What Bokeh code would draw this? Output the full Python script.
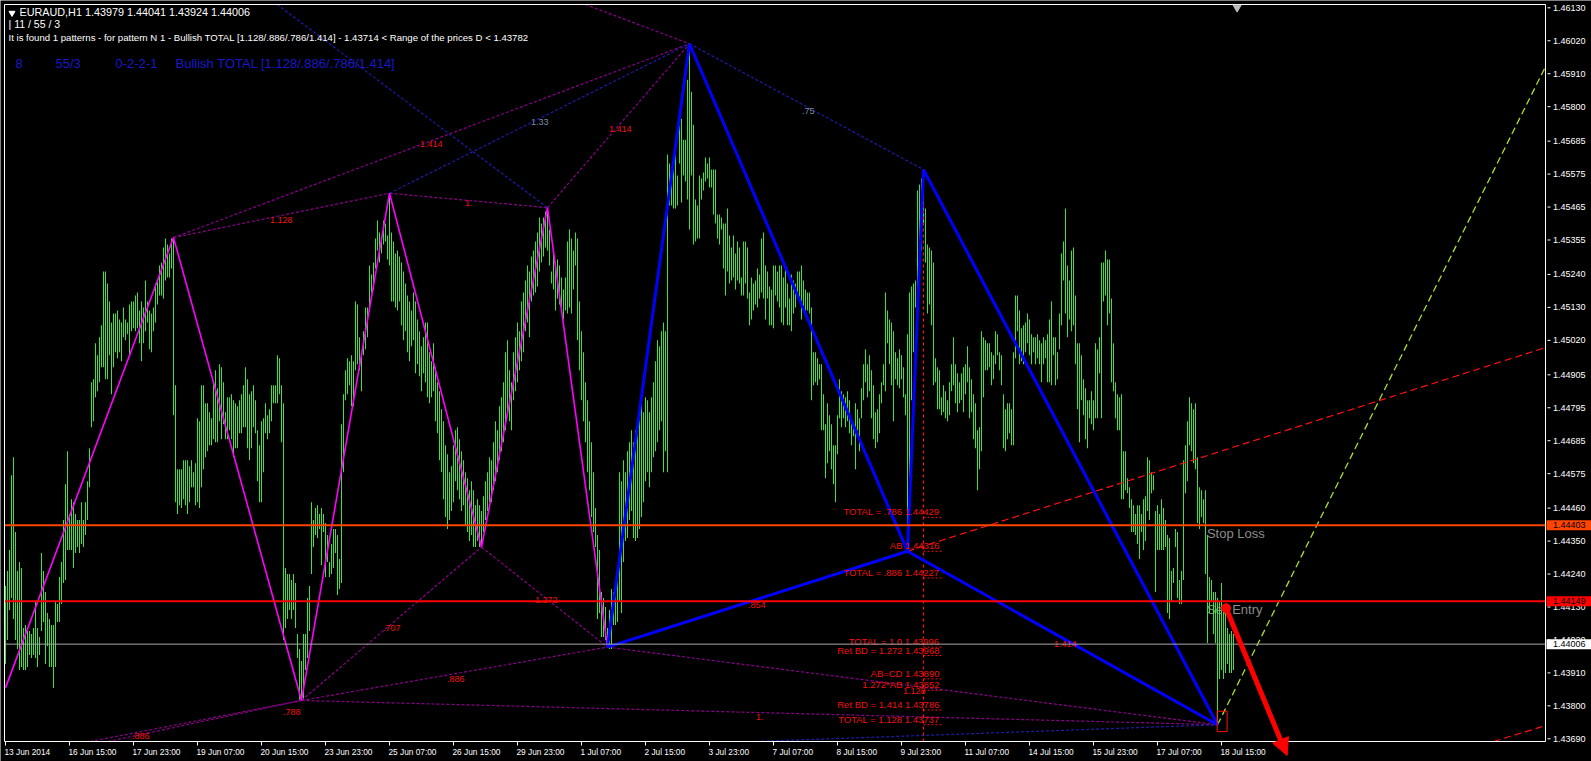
from bokeh.plotting import figure
from bokeh.models import Range1d, Label, Arrow, NormalHead, ColumnDataSource
from bokeh.embed import file_html
from bokeh.resources import INLINE
from bokeh.core.properties import value

# ---------------------------------------------------------------- data
header_line1 = "EURAUD,H1  1.43979 1.44041 1.43924 1.44006"
header_line2 = "| 11 / 55 / 3"
header_line3 = ("It is found 1 patterns  -  for pattern N 1 - Bullish TOTAL "
                "[1.128/.886/.786/1.414] - 1.43714 < Range of the prices D < 1.43782")
blue_info = ["8", "55/3", "0-2-2-1", "Bullish TOTAL [1.128/.886/.786/1.414]"]

time_tick_bars = [0, 32, 64, 96, 128, 160, 192, 224, 256, 288, 320, 352, 384, 416,
                  448, 480, 512, 544, 576, 608]
time_tick_labels = ["13 Jun 2014", "16 Jun 15:00", "17 Jun 23:00", "19 Jun 07:00",
                    "20 Jun 15:00", "23 Jun 23:00", "25 Jun 07:00", "26 Jun 15:00",
                    "29 Jun 23:00", "1 Jul 07:00", "2 Jul 15:00", "3 Jul 23:00",
                    "7 Jul 07:00", "8 Jul 15:00", "9 Jul 23:00", "11 Jul 07:00",
                    "14 Jul 15:00", "15 Jul 23:00", "17 Jul 07:00", "18 Jul 15:00"]

price_ticks = [1.46130, 1.46020, 1.45910, 1.45800, 1.45685, 1.45575, 1.45465, 1.45355,
               1.45240, 1.45130, 1.45020, 1.44905, 1.44795, 1.44685, 1.44575, 1.44460,
               1.44350, 1.44240, 1.44130, 1.44020, 1.43910, 1.43800, 1.43690]

bar_high = [
    1.4420, 1.4425, 1.4432, 1.4457, 1.4463, 1.4438, 1.4425, 1.4428, 1.4426, 1.4406,
    1.4407, 1.4405, 1.4405, 1.4404, 1.4406, 1.4415, 1.4406, 1.4403, 1.4431, 1.4425,
    1.4418, 1.4411, 1.4409, 1.4407, 1.4407, 1.4415, 1.4414, 1.4423, 1.4428, 1.4442,
    1.4454, 1.4465, 1.4444, 1.4449, 1.4448, 1.4444, 1.4442, 1.4442, 1.4448, 1.4442,
    1.4448, 1.4455, 1.4466, 1.4488, 1.4489, 1.4501, 1.4497, 1.4503, 1.4507, 1.4525,
    1.4525, 1.4521, 1.4515, 1.4508, 1.4511, 1.4511, 1.4512, 1.4509, 1.4508, 1.4513,
    1.4509, 1.4508, 1.4514, 1.4515, 1.4515, 1.4517, 1.4518, 1.4512, 1.4515, 1.4513,
    1.4522, 1.4515, 1.4512, 1.4511, 1.4513, 1.4521, 1.4522, 1.4527, 1.4528, 1.4533,
    1.4536, 1.4534, 1.4531, 1.4536, 1.4536, 1.4487, 1.4459, 1.4459, 1.4459, 1.4462,
    1.4462, 1.4462, 1.4460, 1.4462, 1.4458, 1.4461, 1.4476, 1.4475, 1.4487, 1.4487,
    1.4481, 1.4481, 1.4478, 1.4476, 1.4488, 1.4492, 1.4486, 1.4494, 1.4493, 1.4488,
    1.4478, 1.4483, 1.4483, 1.4484, 1.4482, 1.4481, 1.4480, 1.4482, 1.4484, 1.4487,
    1.4493, 1.4489, 1.4484, 1.4485, 1.4487, 1.4482, 1.4472, 1.4467, 1.4475, 1.4476,
    1.4481, 1.4477, 1.4479, 1.4487, 1.4487, 1.4487, 1.4497, 1.4496, 1.4487, 1.4481,
    1.4426, 1.4424, 1.4424, 1.4422, 1.4424, 1.4421, 1.4404, 1.4399, 1.4395, 1.4404,
    1.4404, 1.4416, 1.4420, 1.4448, 1.4442, 1.4446, 1.4447, 1.4444, 1.4446, 1.4444,
    1.4441, 1.4437, 1.4428, 1.4434, 1.4439, 1.4439, 1.4437, 1.4429, 1.4474, 1.4484,
    1.4492, 1.4496, 1.4495, 1.4497, 1.4495, 1.4515, 1.4514, 1.4503, 1.4497, 1.4505,
    1.4513, 1.4513, 1.4527, 1.4524, 1.4528, 1.4536, 1.4542, 1.4538, 1.4536, 1.4542,
    1.4541, 1.4537, 1.4551, 1.4538, 1.4535, 1.4531, 1.4532, 1.4530, 1.4528, 1.4525,
    1.4521, 1.4517, 1.4515, 1.4512, 1.4518, 1.4515, 1.4509, 1.4505, 1.4500, 1.4503,
    1.4508, 1.4508, 1.4498, 1.4495, 1.4501, 1.4493, 1.4488, 1.4485, 1.4479, 1.4475,
    1.4467, 1.4464, 1.4458, 1.4460, 1.4467, 1.4472, 1.4473, 1.4469, 1.4465, 1.4462,
    1.4458, 1.4456, 1.4452, 1.4455, 1.4452, 1.4447, 1.4449, 1.4447, 1.4445, 1.4450,
    1.4455, 1.4458, 1.4463, 1.4462, 1.4468, 1.4475, 1.4472, 1.4480, 1.4483, 1.4488,
    1.4498, 1.4502, 1.4492, 1.4488, 1.4498, 1.4503, 1.4508, 1.4505, 1.4515, 1.4518,
    1.4522, 1.4527, 1.4525, 1.4530, 1.4532, 1.4535, 1.4538, 1.4543, 1.4541, 1.4543,
    1.4545, 1.4546, 1.4539, 1.4525, 1.4531, 1.4528, 1.4529, 1.4527, 1.4523, 1.4519,
    1.4523, 1.4535, 1.4539, 1.4536, 1.4532, 1.4538, 1.4536, 1.4515, 1.4505, 1.4498,
    1.4488, 1.4482, 1.4475, 1.4468, 1.4458, 1.4446, 1.4437, 1.4432, 1.4418, 1.4416,
    1.4413, 1.4406, 1.4412, 1.4419, 1.4418, 1.4419, 1.4425, 1.4458, 1.4455, 1.4462,
    1.4458, 1.4465, 1.4468, 1.4472, 1.4468, 1.4472, 1.4475, 1.4478, 1.4482, 1.4478,
    1.4483, 1.4482, 1.4478, 1.4483, 1.4488, 1.4495, 1.4502, 1.4500, 1.4505, 1.4508,
    1.4505, 1.4564, 1.4561, 1.4556, 1.4559, 1.4564, 1.4557, 1.4579, 1.4576, 1.4569,
    1.4569, 1.4589, 1.4601, 1.4585, 1.4574, 1.4549, 1.4547, 1.4557, 1.4556, 1.4558,
    1.4563, 1.4561, 1.4563, 1.4559, 1.4559, 1.4559, 1.4544, 1.4544, 1.4543, 1.4541,
    1.4541, 1.4546, 1.4537, 1.4533, 1.4537, 1.4531, 1.4535, 1.4533, 1.4523, 1.4535,
    1.4535, 1.4533, 1.4518, 1.4523, 1.4521, 1.4522, 1.4526, 1.4524, 1.4536, 1.4538,
    1.4527, 1.4525, 1.4520, 1.4519, 1.4527, 1.4527, 1.4525, 1.4527, 1.4527, 1.4523,
    1.4527, 1.4521, 1.4516, 1.4524, 1.4522, 1.4521, 1.4525, 1.4525, 1.4527, 1.4522,
    1.4519, 1.4518, 1.4518, 1.4513, 1.4498, 1.4498, 1.4496, 1.4494, 1.4494, 1.4484,
    1.4474, 1.4481, 1.4477, 1.4474, 1.4467, 1.4467, 1.4477, 1.4489, 1.4485, 1.4484,
    1.4483, 1.4485, 1.4482, 1.4476, 1.4474, 1.4481, 1.4479, 1.4476, 1.4486, 1.4494,
    1.4499, 1.4494, 1.4497, 1.4492, 1.4487, 1.4478, 1.4479, 1.4484, 1.4488, 1.4494,
    1.4518, 1.4512, 1.4509, 1.4508, 1.4505, 1.4498, 1.4496, 1.4499, 1.4497, 1.4493,
    1.4484, 1.4504, 1.4518, 1.4520, 1.4521, 1.4522, 1.4552, 1.4554, 1.4556, 1.4559,
    1.4546, 1.4534, 1.4533, 1.4532, 1.4528, 1.4496, 1.4493, 1.4492, 1.4483, 1.4487,
    1.4485, 1.4482, 1.4488, 1.4494, 1.4503, 1.4494, 1.4491, 1.4488, 1.4491, 1.4493,
    1.4494, 1.4500, 1.4493, 1.4489, 1.4484, 1.4481, 1.4472, 1.4473, 1.4505, 1.4503,
    1.4502, 1.4501, 1.4501, 1.4498, 1.4497, 1.4505, 1.4504, 1.4498, 1.4497, 1.4484,
    1.4479, 1.4481, 1.4481, 1.4479, 1.4498, 1.4517, 1.4517, 1.4512, 1.4506, 1.4507,
    1.4508, 1.4511, 1.4509, 1.4504, 1.4503, 1.4503, 1.4504, 1.4502, 1.4501, 1.4503,
    1.4502, 1.4504, 1.4509, 1.4515, 1.4503, 1.4503, 1.4498, 1.4511, 1.4531, 1.4535,
    1.4546, 1.4527, 1.4522, 1.4532, 1.4533, 1.4517, 1.4501, 1.4501, 1.4497, 1.4489,
    1.4486, 1.4482, 1.4482, 1.4485, 1.4482, 1.4501, 1.4499, 1.4503, 1.4528, 1.4528,
    1.4532, 1.4529, 1.4529, 1.4516, 1.4501, 1.4488, 1.4484, 1.4483, 1.4484, 1.4465,
    1.4465, 1.4456, 1.4453, 1.4449, 1.4447, 1.4444, 1.4447, 1.4447, 1.4444, 1.4449,
    1.4450, 1.4463, 1.4462, 1.4458, 1.4457, 1.4445, 1.4447, 1.4444, 1.4449, 1.4446,
    1.4442, 1.4437, 1.4436, 1.4425, 1.4426, 1.4439, 1.4438, 1.4422, 1.4425, 1.4462,
    1.4467, 1.4475, 1.4483, 1.4481, 1.4479, 1.4481, 1.4463, 1.4453, 1.4452, 1.4449,
    1.4452, 1.4437, 1.4423, 1.4422, 1.4418, 1.4418, 1.4416, 1.4415, 1.4421, 1.4413,
    1.4411, 1.4406, 1.4404, 1.4405, 1.4404,
]

bar_low = [
    1.4394, 1.4402, 1.4412, 1.4416, 1.4409, 1.4402, 1.4399, 1.4392, 1.4393, 1.4392,
    1.4392, 1.4393, 1.4397, 1.4396, 1.4397, 1.4396, 1.4393, 1.4397, 1.4405, 1.4408,
    1.4394, 1.4400, 1.4393, 1.4393, 1.4386, 1.4393, 1.4408, 1.4408, 1.4414, 1.4421,
    1.4422, 1.4432, 1.4432, 1.4432, 1.4426, 1.4431, 1.4433, 1.4431, 1.4434, 1.4433,
    1.4437, 1.4442, 1.4453, 1.4473, 1.4475, 1.4483, 1.4485, 1.4488, 1.4493, 1.4493,
    1.4489, 1.4489, 1.4497, 1.4484, 1.4493, 1.4498, 1.4496, 1.4498, 1.4495, 1.4503,
    1.4502, 1.4504, 1.4497, 1.4505, 1.4506, 1.4505, 1.4506, 1.4501, 1.4495, 1.4501,
    1.4505, 1.4508, 1.4499, 1.4498, 1.4505, 1.4508, 1.4514, 1.4517, 1.4517, 1.4516,
    1.4522, 1.4523, 1.4523, 1.4526, 1.4477, 1.4448, 1.4444, 1.4447, 1.4446, 1.4449,
    1.4447, 1.4444, 1.4448, 1.4453, 1.4453, 1.4447, 1.4448, 1.4446, 1.4453, 1.4459,
    1.4463, 1.4465, 1.4467, 1.4467, 1.4469, 1.4468, 1.4468, 1.4475, 1.4469, 1.4474,
    1.4469, 1.4469, 1.4472, 1.4469, 1.4463, 1.4466, 1.4466, 1.4471, 1.4471, 1.4473,
    1.4473, 1.4466, 1.4462, 1.4466, 1.4473, 1.4471, 1.4455, 1.4448, 1.4448, 1.4458,
    1.4471, 1.4469, 1.4471, 1.4475, 1.4481, 1.4481, 1.4481, 1.4484, 1.4468, 1.4402,
    1.4406, 1.4409, 1.4412, 1.4409, 1.4412, 1.4406, 1.4396, 1.4382, 1.4383, 1.4382,
    1.4392, 1.4396, 1.4405, 1.4424, 1.4433, 1.4437, 1.4436, 1.4439, 1.4427, 1.4438,
    1.4423, 1.4428, 1.4423, 1.4424, 1.4426, 1.4431, 1.4417, 1.4419, 1.4421, 1.4458,
    1.4482, 1.4484, 1.4487, 1.4480, 1.4480, 1.4492, 1.4494, 1.4492, 1.4485, 1.4497,
    1.4499, 1.4503, 1.4512, 1.4518, 1.4519, 1.4526, 1.4532, 1.4528, 1.4531, 1.4534,
    1.4535, 1.4529, 1.4527, 1.4515, 1.4515, 1.4513, 1.4512, 1.4515, 1.4507, 1.4502,
    1.4505, 1.4498, 1.4495, 1.4500, 1.4502, 1.4491, 1.4494, 1.4490, 1.4485, 1.4491,
    1.4488, 1.4483, 1.4481, 1.4483, 1.4485, 1.4475, 1.4471, 1.4462, 1.4458, 1.4449,
    1.4443, 1.4439, 1.4442, 1.4445, 1.4448, 1.4455, 1.4452, 1.4449, 1.4445, 1.4447,
    1.4440, 1.4438, 1.4435, 1.4437, 1.4433, 1.4433, 1.4435, 1.4433, 1.4433, 1.4438,
    1.4442, 1.4445, 1.4448, 1.4448, 1.4452, 1.4455, 1.4458, 1.4462, 1.4465, 1.4468,
    1.4472, 1.4478, 1.4475, 1.4472, 1.4482, 1.4485, 1.4488, 1.4492, 1.4495, 1.4498,
    1.4505, 1.4508, 1.4503, 1.4515, 1.4517, 1.4518, 1.4520, 1.4525, 1.4528, 1.4530,
    1.4533, 1.4532, 1.4527, 1.4521, 1.4519, 1.4512, 1.4516, 1.4514, 1.4512, 1.4509,
    1.4512, 1.4511, 1.4513, 1.4511, 1.4519, 1.4527, 1.4502, 1.4492, 1.4482, 1.4475,
    1.4468, 1.4458, 1.4452, 1.4443, 1.4438, 1.4433, 1.4409, 1.4411, 1.4403, 1.4403,
    1.4402, 1.4400, 1.4399, 1.4399, 1.4407, 1.4407, 1.4408, 1.4415, 1.4411, 1.4428,
    1.4435, 1.4436, 1.4442, 1.4445, 1.4436, 1.4435, 1.4436, 1.4439, 1.4443, 1.4448,
    1.4455, 1.4458, 1.4453, 1.4458, 1.4463, 1.4465, 1.4468, 1.4472, 1.4475, 1.4458,
    1.4465, 1.4458, 1.4547, 1.4547, 1.4546, 1.4546, 1.4547, 1.4561, 1.4548, 1.4557,
    1.4555, 1.4549, 1.4539, 1.4557, 1.4534, 1.4535, 1.4536, 1.4536, 1.4549, 1.4552,
    1.4555, 1.4556, 1.4553, 1.4553, 1.4544, 1.4541, 1.4536, 1.4534, 1.4539, 1.4526,
    1.4517, 1.4525, 1.4521, 1.4522, 1.4523, 1.4519, 1.4522, 1.4521, 1.4517, 1.4517,
    1.4521, 1.4516, 1.4507, 1.4509, 1.4512, 1.4514, 1.4513, 1.4516, 1.4518, 1.4516,
    1.4509, 1.4516, 1.4507, 1.4507, 1.4506, 1.4517, 1.4515, 1.4513, 1.4508, 1.4507,
    1.4513, 1.4507, 1.4507, 1.4505, 1.4511, 1.4513, 1.4516, 1.4516, 1.4509, 1.4513,
    1.4511, 1.4512, 1.4511, 1.4482, 1.4487, 1.4488, 1.4487, 1.4489, 1.4472, 1.4472,
    1.4456, 1.4461, 1.4465, 1.4459, 1.4454, 1.4448, 1.4464, 1.4476, 1.4473, 1.4476,
    1.4473, 1.4475, 1.4471, 1.4467, 1.4470, 1.4459, 1.4472, 1.4465, 1.4476, 1.4482,
    1.4488, 1.4483, 1.4485, 1.4476, 1.4469, 1.4466, 1.4468, 1.4471, 1.4481, 1.4487,
    1.4485, 1.4501, 1.4494, 1.4487, 1.4475, 1.4489, 1.4487, 1.4486, 1.4489, 1.4483,
    1.4477, 1.4432, 1.4455, 1.4482, 1.4498, 1.4513, 1.4519, 1.4525, 1.4532, 1.4541,
    1.4528, 1.4511, 1.4514, 1.4507, 1.4487, 1.4488, 1.4479, 1.4479, 1.4477, 1.4478,
    1.4476, 1.4475, 1.4477, 1.4485, 1.4487, 1.4481, 1.4478, 1.4481, 1.4482, 1.4478,
    1.4484, 1.4488, 1.4476, 1.4478, 1.4469, 1.4466, 1.4452, 1.4459, 1.4465, 1.4483,
    1.4492, 1.4492, 1.4493, 1.4487, 1.4489, 1.4494, 1.4497, 1.4492, 1.4487, 1.4466,
    1.4465, 1.4469, 1.4471, 1.4467, 1.4467, 1.4496, 1.4505, 1.4494, 1.4495, 1.4494,
    1.4498, 1.4501, 1.4497, 1.4494, 1.4498, 1.4494, 1.4496, 1.4494, 1.4488, 1.4494,
    1.4496, 1.4488, 1.4488, 1.4487, 1.4497, 1.4487, 1.4489, 1.4499, 1.4507, 1.4522,
    1.4511, 1.4503, 1.4509, 1.4505, 1.4507, 1.4494, 1.4479, 1.4468, 1.4482, 1.4477,
    1.4469, 1.4466, 1.4476, 1.4474, 1.4472, 1.4476, 1.4476, 1.4491, 1.4476, 1.4515,
    1.4517, 1.4507, 1.4511, 1.4488, 1.4485, 1.4476, 1.4472, 1.4472, 1.4449, 1.4449,
    1.4452, 1.4451, 1.4446, 1.4438, 1.4438, 1.4437, 1.4434, 1.4429, 1.4438, 1.4432,
    1.4435, 1.4445, 1.4442, 1.4451, 1.4452, 1.4418, 1.4432, 1.4432, 1.4432, 1.4432,
    1.4433, 1.4411, 1.4409, 1.4415, 1.4421, 1.4433, 1.4416, 1.4414, 1.4414, 1.4422,
    1.4451, 1.4455, 1.4467, 1.4465, 1.4461, 1.4459, 1.4441, 1.4439, 1.4443, 1.4441,
    1.4424, 1.4401, 1.4411, 1.4415, 1.4404, 1.4401, 1.4374, 1.4389, 1.4392, 1.4389,
    1.4391, 1.4394, 1.4391, 1.4391, 1.4392,
]
bar_index = list(range(len(bar_high)))

# swing points of the harmonic pattern (bar index, price)
swing_names = ["S", "P1", "L1", "P2", "L2", "P3", "X", "A", "B", "C", "D"]
swing_bar = [0, 84, 148, 192, 238, 271, 301, 342, 451, 459, 606]
swing_price = [1.4386, 1.45363, 1.43818, 1.45511, 1.4433, 1.45463, 1.43996,
               1.4601, 1.44316, 1.4559, 1.43737]
# helper points of the extension lines (outside the view or at its edge)
aux_names = ["Q1", "Q2", "N0", "R1", "R2a", "R2b", "G1", "H0"]
aux_bar = [-20, -20, 330, 770, 742, 770, 770, -19.25]
aux_price = [1.4360, 1.4358, 1.4367, 1.44996, 1.43677, 1.43734, 1.45934, 1.46919]

zigzag_path = ["S", "P1", "L1", "P2", "L2", "P3", "X"]
pattern_legs = [("X", "A"), ("A", "B"), ("B", "C"), ("C", "D"), ("X", "B"), ("B", "D")]
purple_ratio_lines = [("P1", "P2"), ("P2", "P3"), ("P1", "A"), ("P3", "A"), ("L1", "L2"),
                      ("L1", "X"), ("L1", "D"), ("L2", "X"), ("X", "D"),
                      ("Q1", "L1"), ("Q2", "L1"), ("H0", "A")]
navy_ratio_lines = [("A", "C"), ("P2", "A"), ("N0", "D"), ("H0", "P3")]
red_dash_lines = [("B", "R1"), ("R2a", "R2b")]
green_dash_lines = [("D", "G1")]

ratio_text = ["1.128", "1.", "1.414", "1.414", ".707", ".788", ".886", ".886",
              "1.272", ".854", "1.", "1.128", "1.414"]
ratio_text_bar = [132.3, 229.8, 207.3, 301.8, 188.8, 138.8, 220.7, 63.3,
                  264.8, 371.3, 375.3, 448.8, 524.3]
ratio_text_price = [1.45423, 1.45477, 1.45674, 1.45727, 1.44059, 1.43779, 1.43888, 1.43700,
                    1.44152, 1.44138, 1.43762, 1.43851, 1.44008]
grey_ratio_text = ["1.33", ".75"]
grey_ratio_bar = [262.8, 398.2]
grey_ratio_price = [1.45748, 1.45787]

level_names = ["TOTAL = .786", "AB", "TOTAL = .886", "TOTAL = 1.0", "Ret BD = 1.272",
               "AB=CD", "1.272*AB", "Ret BD = 1.414", "TOTAL = 1.128"]
level_prices = [1.44429, 1.44316, 1.44227, 1.43996, 1.43968, 1.43890, 1.43852,
                1.43786, 1.43737]
level_label_bar = 468.3

stop_loss = 1.44403
sell_entry = 1.44149
bid_price = 1.44006
trade_text_bar = 600.7

d_zone_bar = [605.8, 610.8]
d_zone_price = [1.43714, 1.43782]
signal_arrow_bar = [610.3, 640.8]
signal_arrow_price = [1.44126, 1.43634]
shift_marker_bar = 615.8

# ---------------------------------------------------------------- geometry
W, H = 1591, 761                       # canvas = MT4 window
CH_L, CH_R, CH_T, CH_B = 4, 1545, 4, 741   # chart rectangle (px)
BAR0_PX, PX_PER_BAR = 5.0, 2.0         # bar 0 centre, bar spacing
PRICE_AT_TOP, PRICE_PER_PX = 1.461544, 3.3379e-5


def bar_at(px):
    return (px - BAR0_PX) / PX_PER_BAR


def price_at(py):
    return PRICE_AT_TOP - py * PRICE_PER_PX


XL, XR = bar_at(CH_L), bar_at(CH_R)
YB, YT = price_at(CH_B), price_at(CH_T)
FONT = value("Liberation Sans")

p = figure(width=W, height=H, x_range=Range1d(bar_at(0), bar_at(W)),
           y_range=Range1d(price_at(H), price_at(0)),
           x_axis_location=None, y_axis_location=None, min_border=0,
           output_backend="svg", toolbar_location=None,
           background_fill_color="black", border_fill_color="black")
p.outline_line_color = None
p.xgrid.visible = False
p.ygrid.visible = False

pt = dict(zip(swing_names + aux_names,
              zip(swing_bar + aux_bar, swing_price + aux_price)))


def clip(x0, y0, x1, y1):
    dx, dy = x1 - x0, y1 - y0
    t0, t1 = 0.0, 1.0
    for pp, qq in ((-dx, x0 - XL), (dx, XR - x0), (-dy, y0 - YB), (dy, YT - y0)):
        if pp == 0:
            if qq < 0:
                return None
        else:
            r = qq / pp
            if pp < 0:
                t0 = max(t0, r)
            else:
                t1 = min(t1, r)
    if t0 > t1:
        return None
    return [x0 + t0 * dx, x0 + t1 * dx], [y0 + t0 * dy, y0 + t1 * dy]


def seg_lists(pairs):
    xs, ys = [], []
    for a, b in pairs:
        c = clip(pt[a][0], pt[a][1], pt[b][0], pt[b][1])
        if c:
            xs.append(c[0])
            ys.append(c[1])
    return xs, ys


# ---- texts under the bars
p.text(x=[trade_text_bar, trade_text_bar], y=[stop_loss, sell_entry],
       text=["Stop Loss", "Sell Entry"], text_color="#8c8c8c", text_font=FONT,
       text_font_size="13px", text_baseline="top", text_align="left", y_offset=1)

# ---- price bars: one pixel wide columns (half a bar step)
p.vbar(x=bar_index, width=0.5, bottom=bar_low, top=bar_high,
       fill_color="#3ae43a", line_color=None)

# ---- dotted / dashed construction lines
xs, ys = seg_lists(purple_ratio_lines)
p.multi_line(xs, ys, line_color="#8b008b", line_width=1.2, line_dash="3 2")
xs, ys = seg_lists(navy_ratio_lines)
p.multi_line(xs, ys, line_color="#1c1ca8", line_width=1.2, line_dash="3 2")
xs, ys = seg_lists(red_dash_lines)
p.multi_line(xs, ys, line_color="#ff1010", line_width=1.2, line_dash="7 4")
xs, ys = seg_lists(green_dash_lines)
p.multi_line(xs, ys, line_color="#a6e02a", line_width=1.3, line_dash="7 4")
p.segment(x0=[pt["C"][0]], y0=[YB], x1=[pt["C"][0]], y1=[pt["C"][1]],
          line_color="#ff1010", line_width=1.2, line_dash="3 3")

# ---- zigzag and harmonic pattern
p.line([pt[n][0] for n in zigzag_path], [pt[n][1] for n in zigzag_path],
       line_color="#ff00ff", line_width=1.6)
xs, ys = seg_lists(pattern_legs)
p.multi_line(xs, ys, line_color="#0000ff", line_width=3)

# ---- level labels at C
level_src = ColumnDataSource(dict(
    x=[level_label_bar] * len(level_prices), y=level_prices,
    t=[f"{n}  {v:.5f}" for n, v in zip(level_names, level_prices)],
    x0=[pt["C"][0]] * len(level_prices)))
p.text(x="x", y="y", text="t", source=level_src, text_color="#f01010", text_font=FONT,
       text_font_size="9.5px", text_align="right", text_baseline="bottom")
p.segment(x0="x0", y0="y", x1="x", y1="y", source=level_src, line_color="#f01010",
          line_width=1, line_dash="2 2")

p.text(x=ratio_text_bar, y=ratio_text_price, text=ratio_text, text_color="#f01010",
       text_font=FONT, text_font_size="9px", text_baseline="middle", text_align="left")
p.text(x=grey_ratio_bar, y=grey_ratio_price, text=grey_ratio_text, text_color="#7d8ca6",
       text_font=FONT, text_font_size="9px", text_baseline="middle", text_align="left")

# ---- D zone box
p.quad(left=[d_zone_bar[0]], right=[d_zone_bar[1]], bottom=[d_zone_price[0]],
       top=[d_zone_price[1]], fill_alpha=0, line_color="#ff1010", line_width=1)

# ---- horizontal levels (chart width only)
p.segment(x0=[XL] * 3, x1=[XR] * 3, y0=[bid_price, stop_loss, sell_entry],
          y1=[bid_price, stop_loss, sell_entry],
          line_color=["#a8a8a8", "#ff4500", "#ff0000"], line_width=[1, 2, 2])

# ---- signal arrow
p.scatter(x=[signal_arrow_bar[0]], y=[signal_arrow_price[0]], size=9, color="#ff0000")
p.add_layout(Arrow(x_start=signal_arrow_bar[0], y_start=signal_arrow_price[0],
                   x_end=signal_arrow_bar[1], y_end=signal_arrow_price[1],
                   line_color="#ff0000", line_width=5,
                   end=NormalHead(size=17, fill_color="#ff0000", line_color="#ff0000")))

# ---- chart frame
p.quad(left=[XL], right=[XR], bottom=[YB], top=[YT], fill_alpha=0,
       line_color="white", line_width=1)

# ---- price scale (right)
n_y = len(price_ticks)
p.segment(x0=[bar_at(1547)] * n_y, x1=[bar_at(1550)] * n_y, y0=price_ticks,
          y1=price_ticks, line_color="white", line_width=1)
p.text(x=[bar_at(1552.5)] * n_y, y=price_ticks, text=[f"{v:.5f}" for v in price_ticks],
       text_color="white", text_font=FONT, text_font_size="9px",
       text_baseline="middle", text_align="left")

# ---- time scale (bottom)
n_x = len(time_tick_bars)
p.segment(x0=time_tick_bars, x1=time_tick_bars, y0=[YB] * n_x,
          y1=[price_at(745)] * n_x, line_color="white", line_width=1)
p.text(x=time_tick_bars, y=[price_at(751)] * n_x, text=time_tick_labels, x_offset=-1,
       text_color="white", text_font=FONT, text_font_size="8.3px",
       text_baseline="middle", text_align="left")

# ---- price boxes on the scale
box_levels = [stop_loss, sell_entry, bid_price]
half = 5 * PRICE_PER_PX
p.quad(left=[bar_at(1546)] * 3, right=[bar_at(W)] * 3,
       bottom=[v - half for v in box_levels], top=[v + half for v in box_levels],
       fill_color=["#ff4500", "#ff0000", "white"], line_color=None)
p.text(x=[bar_at(1552.5)] * 3, y=box_levels, text=[f"{v:.5f}" for v in box_levels],
       text_color="black", text_font=FONT, text_font_size="9px",
       text_baseline="middle", text_align="left")

# ---- chart shift marker and header triangle
p.scatter(x=[shift_marker_bar], y=[price_at(7)], marker="inverted_triangle", size=8,
          color="#bdbdbd")
p.scatter(x=[bar_at(11.5)], y=[price_at(12.5)], marker="inverted_triangle", size=6,
          color="white")


# ---- header texts (screen coordinates, canvas = frame)
def hdr(x, y, text, color="white", size="9.6px"):
    p.add_layout(Label(x=x, y=H - y, x_units="screen", y_units="screen", text=text,
                       text_color=color, text_font="Liberation Sans", text_font_size=size,
                       text_baseline="middle", text_align="left"))


hdr(19, 11.5, header_line1, size="10.8px")
hdr(8, 23.5, header_line2, size="10.5px")
hdr(8, 37, header_line3)
for bx, t in zip([15, 55, 115, 175], blue_info):
    hdr(bx, 62.5, t, color="#1818c8", size="13px")

open("out.html", "w").write(file_html(p, INLINE))
